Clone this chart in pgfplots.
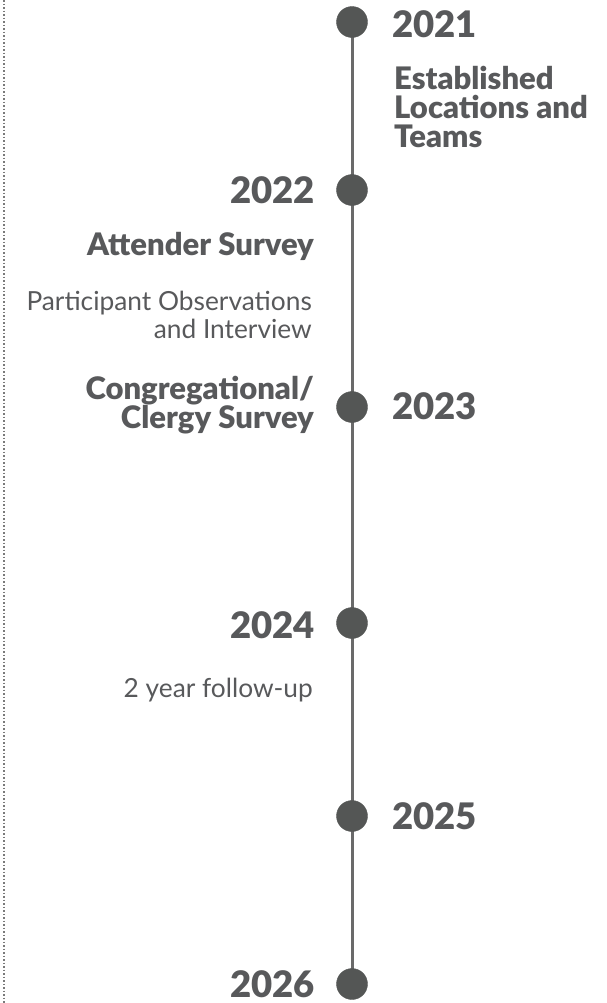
\documentclass[border=0pt]{standalone}
\usepackage{pgfplots}
\pgfplotsset{compat=1.18}
\usepackage{fontspec}
\setmainfont{Lato}
\newfontfamily\latoblack{Lato Black}
\definecolor{txt}{HTML}{58595B}
\definecolor{dotc}{HTML}{545655}
\definecolor{linec}{HTML}{6A6A6A}
\definecolor{framec}{HTML}{7A7A7A}

\tikzset{
  year/.style={inner sep=0pt, text=txt, font=\latoblack\fontsize{36.5bp}{36.5bp}\selectfont},
  event/.style={inner sep=0pt, text=txt, font=\latoblack\fontsize{31bp}{29bp}\selectfont},
  note/.style={inner sep=0pt, text=txt, font=\fontsize{26.3bp}{27.5bp}\selectfont},
}

\begin{document}
\begin{tikzpicture}
\begin{axis}[
  scale only axis, width=606bp, height=1003bp,
  xmin=0, xmax=606, ymin=0, ymax=1003, y dir=reverse,
  hide axis, clip=false,
]
% left frame, dotted
\addplot[color=framec, line width=1.8bp, dash pattern=on 1.8bp off 1.7bp] coordinates {(4,0) (4,1003)};
% timeline
\addplot[color=linec, line width=3bp] coordinates {(352,22) (352,985)};
\addplot[only marks, mark=*, mark size=15.5bp, color=dotc] coordinates {
  (352,22) (352,190) (352,407) (352,623) (352,816) (352,984)};

\coordinate (tl) at (axis cs:0,0);
\coordinate (br) at (axis cs:606,1003);

% years
\node[year, anchor=base west] at (axis cs:392,37) {2021};
\node[year, anchor=base east] at (axis cs:315,203) {2022};
\node[year, anchor=base west] at (axis cs:392,419) {2023};
\node[year, anchor=base east] at (axis cs:315,638) {2024};
\node[year, anchor=base west] at (axis cs:392,829) {2025};
\node[year, anchor=base east] at (axis cs:315,997) {2026};

% events (base anchor = last line)
\node[event, anchor=base west, align=left] at (axis cs:394,147)
  {Established\\Locations and\\Teams};
\node[event, anchor=base east] at (axis cs:314,255) {Attender Survey};
\node[note, anchor=base east, align=right] at (axis cs:312,338)
  {Participant Observations\\and Interview};
\node[event, anchor=base east, align=right] at (axis cs:314,428)
  {Congregational/\\Clergy Survey};
\node[note, anchor=base east] at (axis cs:313,697) {2 year follow-up};
\end{axis}
\pgfresetboundingbox
\path[use as bounding box] (tl) rectangle (br);
\end{tikzpicture}
\end{document}
